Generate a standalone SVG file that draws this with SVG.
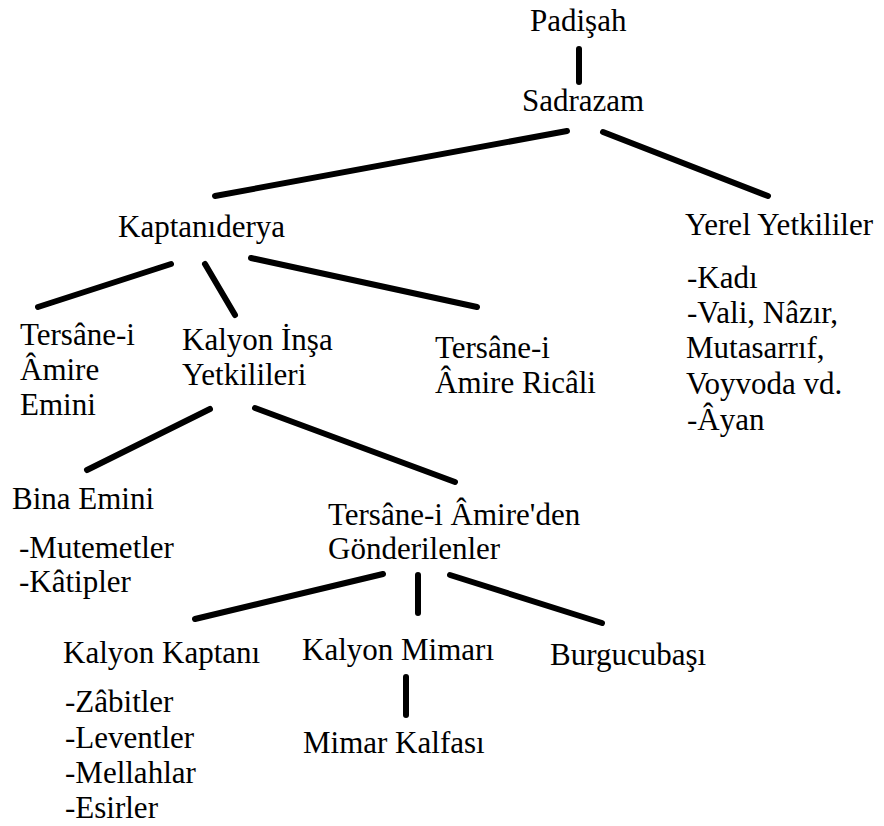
<svg xmlns="http://www.w3.org/2000/svg" width="884" height="826" viewBox="0 0 884 826">
<style>
text{font-family:'Liberation Serif','Times New Roman','DejaVu Serif',serif;font-size:31px;fill:#000}
.c line{stroke:#000;stroke-width:6;stroke-linecap:round}
</style>
<rect width="884" height="826" fill="#fff"/>
<g class="c" id="connectors">
<line x1="579" y1="49" x2="579" y2="82"/>
<line x1="567" y1="131" x2="215" y2="196"/>
<line x1="603" y1="132" x2="768" y2="196"/>
<line x1="171" y1="264" x2="38" y2="307"/>
<line x1="205" y1="264" x2="235" y2="315"/>
<line x1="251" y1="258" x2="477" y2="307"/>
<line x1="210" y1="409" x2="87" y2="470"/>
<line x1="255" y1="408" x2="455" y2="482"/>
<line x1="383" y1="574" x2="195" y2="619"/>
<line x1="418" y1="575" x2="418" y2="613"/>
<line x1="450" y1="575" x2="602" y2="623"/>
<line x1="406" y1="677" x2="406" y2="715"/>
</g>
<g id="padisah"><text x="530" y="31" font-family="Liberation Serif, serif">Padişah</text></g>
<g id="sadrazam"><text x="522" y="111">Sadrazam</text></g>
<g id="kaptaniderya"><text x="118" y="237">Kaptanıderya</text></g>
<g id="yerel"><text x="685" y="235">Yerel Yetkililer</text>
<text x="687" y="288">-Kadı</text>
<text x="687" y="323">-Vali, Nâzır,</text>
<text x="686" y="358">Mutasarrıf,</text>
<text x="686" y="394">Voyvoda vd.</text>
<text x="687" y="430">-Âyan</text></g>
<g id="tersane-emini"><text x="20" y="345">Tersâne-i</text>
<text x="20" y="380">Âmire</text>
<text x="20" y="415">Emini</text></g>
<g id="kalyon-insa"><text x="182" y="350">Kalyon İnşa</text>
<text x="182" y="385">Yetkilileri</text></g>
<g id="tersane-ricali"><text x="435" y="358">Tersâne-i</text>
<text x="435" y="393">Âmire Ricâli</text></g>
<g id="bina-emini"><text x="12" y="509">Bina Emini</text>
<text x="19" y="558">-Mutemetler</text>
<text x="19" y="592">-Kâtipler</text></g>
<g id="gonderilenler"><text x="328" y="525">Tersâne-i Âmire'den</text>
<text x="328" y="559">Gönderilenler</text></g>
<g id="kalyon-kaptani"><text x="63" y="663">Kalyon Kaptanı</text>
<text x="65" y="712">-Zâbitler</text>
<text x="65" y="748">-Leventler</text>
<text x="65" y="783">-Mellahlar</text>
<text x="65" y="818">-Esirler</text></g>
<g id="kalyon-mimari"><text x="302" y="660">Kalyon Mimarı</text></g>
<g id="mimar-kalfasi"><text x="303" y="753">Mimar Kalfası</text></g>
<g id="burgucubasi"><text x="550" y="665">Burgucubaşı</text></g>
</svg>
